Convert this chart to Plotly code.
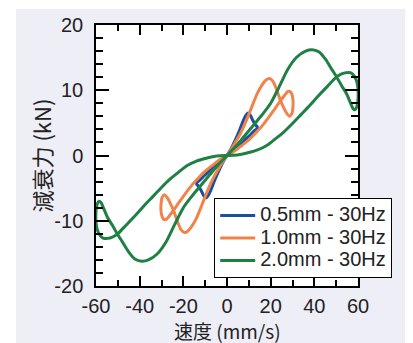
import plotly.graph_objects as go

# ---- data (velocity mm/s, force kN) ----
v_05 = [0, 1.5, 3, 4.5, 6, 7.5, 8.7, 9.6, 10.6, 11.8, 13.0, 13.9, 13.6, 12.2, 10.5, 8.5, 6.5, 4.5, 2.5, 0,
        -2.5, -4.5, -6.5, -8.5, -10.5, -12.2, -13.6, -13.9, -13.0, -11.8, -10.6, -9.6, -8.7, -7.5, -6, -4.5, -3, -1.5, 0]
f_05 = [0, 0.8, 1.8, 2.9, 4.1, 5.4, 6.2, 6.5, 6.2, 5.4, 4.7, 4.4, 4.1, 3.7, 3.1, 2.5, 1.8, 1.2, 0.6, 0,
        -0.6, -1.2, -1.8, -2.5, -3.1, -3.7, -4.1, -4.4, -4.7, -5.4, -6.2, -6.5, -6.2, -5.4, -4.1, -2.9, -1.8, -0.8, 0]

v_10 = [0, 2, 4, 6, 8, 10, 12, 14, 16, 18, 19.5, 21, 22.5, 24.3, 26, 27.5, 28.7, 29.7, 30.2, 30.2, 29.7, 28.9,
        27.8, 26.3, 24.3, 22, 19, 16, 13, 10, 7, 4, 2, 0,
        -2, -4, -7, -10, -13, -16, -19, -22, -24.3, -26.3, -27.8, -28.9, -29.7, -30.2, -30.2, -29.7, -28.7,
        -27.5, -26, -24.3, -22.5, -21, -19.5, -18, -16, -14, -12, -10, -8, -6, -4, -2, 0]
f_10 = [0, 1.0, 2.1, 3.3, 4.7, 6.3, 8.0, 9.6, 10.8, 11.6, 11.8, 11.4, 10.3, 8.6, 7.3, 6.4, 6.0, 6.4, 7.4, 8.6, 9.4, 9.8,
        9.8, 9.2, 8.3, 7.2, 5.8, 4.5, 3.4, 2.4, 1.6, 0.8, 0.4, 0,
        -0.4, -0.8, -1.6, -2.4, -3.4, -4.5, -5.8, -7.2, -8.3, -9.2, -9.8, -9.8, -9.4, -8.6, -7.4, -6.4, -6.0,
        -6.4, -7.3, -8.6, -10.3, -11.4, -11.8, -11.6, -10.8, -9.6, -8.0, -6.3, -4.7, -3.3, -2.1, -1.0, 0]

v_20 = [0, 4, 8, 12, 16, 20, 24, 28, 32, 36, 39, 42, 45, 48, 50.1, 52.5, 54.7, 56.5, 57.7, 58.6, 59.5, 60, 60,
        59.3, 58, 56.5, 54.7, 52.5, 50.1, 46, 42, 38, 34, 30, 26, 22, 18, 14, 10, 6, 3, 0,
        -3, -6, -10, -14, -18, -22, -26, -30, -34, -38, -42, -46, -50.1, -52.5, -54.7, -56.5, -58, -59.3,
        -60, -60, -59.5, -58.6, -57.7, -56.5, -54.7, -52.5, -50.1, -48, -45, -42, -39, -36, -32, -28, -24,
        -20, -16, -12, -8, -4, 0]
f_20 = [0, 1.4, 3.0, 4.6, 6.2, 8.0, 10.6, 13.3, 15.1, 16.0, 16.2, 15.9, 14.8, 13.2, 12.1, 10.7, 9.5, 8.1, 7.2, 7.0, 7.5, 8.6, 10.2,
        11.5, 12.3, 12.7, 12.7, 12.5, 12.0, 10.6, 9.2, 7.7, 6.3, 4.9, 3.6, 2.5, 1.5, 0.85, 0.45, 0.15, 0.04, 0,
        -0.04, -0.15, -0.45, -0.85, -1.5, -2.5, -3.6, -4.9, -6.3, -7.7, -9.2, -10.6, -12.0, -12.5, -12.7, -12.7, -12.3, -11.5,
        -10.2, -8.6, -7.5, -7.0, -7.2, -8.1, -9.5, -10.7, -12.1, -13.2, -14.8, -15.9, -16.2, -16.0, -15.1, -13.3, -10.6,
        -8.0, -6.2, -4.6, -3.0, -1.4, 0]

series_names = ["0.5mm - 30Hz", "1.0mm - 30Hz", "2.0mm - 30Hz"]
series_colors = ["#1B4F9E", "#F0834A", "#1E8043"]

x_tickvals = [-60, -40, -20, 0, 20, 40, 60]
x_ticktext = ["-60", "-40", "-20", "0", "20", "40", "60"]
y_tickvals = [-20, -10, 0, 10, 20]
y_ticktext = ["-20", "-10", "0", "10", "20"]

x_title = "速度 (mm/s)"
y_title = "減衰力 (kN)"

LATIN = "Liberation Sans, Arial, sans-serif"
CJK = "Noto Sans CJK JP, Liberation Sans, sans-serif"

fig = go.Figure()
for name, xs, ys, col in zip(series_names, [v_05, v_10, v_20], [f_05, f_10, f_20], series_colors):
    fig.add_trace(go.Scatter(
        x=xs, y=ys, mode="lines",
        name='<span style="font-size:20px">' + name + '</span>',
        line=dict(color=col, width=3, shape="spline", smoothing=0.8),
        hoverinfo="skip",
    ))

# page is offset by the 8px body margin
OFF = 8
W, H = 413 - OFF, 343 - OFF
L, T = 96 - OFF, 25 - OFF
R = W - (358 - OFF)
B = H - (286 - OFF)
pw, ph = W - L - R, H - T - B

def px_x(x):  # page px -> paper
    return (x - OFF - L) / pw

def px_y(y):
    return (H - B - (y - OFF)) / ph

axis_common = dict(
    showline=True, linecolor="black", linewidth=1.5, mirror="ticks",
    ticks="inside", tickcolor="black", tickwidth=1.5,
    showgrid=False, zeroline=False,
    tickfont=dict(family=LATIN, size=20, color="#222"),
    tickmode="array",
)

fig.update_xaxes(
    **axis_common, range=[-60, 60], tickvals=x_tickvals, ticktext=x_ticktext,
    ticklen=10, ticklabelstandoff=1,
    minor=dict(dtick=10, tick0=0, ticklen=6, ticks="inside", tickcolor="black", tickwidth=1.5),
)
fig.update_yaxes(
    **axis_common, range=[-20, 20], tickvals=y_tickvals, ticktext=y_ticktext,
    ticklen=13, ticklabelstandoff=7,
    minor=dict(dtick=2, tick0=0, ticklen=7, ticks="inside", tickcolor="black", tickwidth=1.5),
)

lav = "#EEEEF7"
fig.update_layout(
    width=W, height=H,
    margin=dict(l=L, r=R, t=T, b=B, autoexpand=False),
    paper_bgcolor=lav, plot_bgcolor="white",
    showlegend=True,
    legend=dict(
        x=px_x(214), y=px_y(198), xanchor="left", yanchor="top",
        bgcolor="white", bordercolor="black", borderwidth=1.2,
        font=dict(family=LATIN, size=15, color="#222"),
        itemwidth=35, tracegroupgap=0,
    ),
    shapes=[
        dict(type="rect", xref="paper", yref="paper", x0=-2, x1=px_x(16), y0=-2, y1=3,
             fillcolor="white", line=dict(width=0), layer="below"),
        dict(type="rect", xref="paper", yref="paper", x0=-2, x1=3, y0=px_y(9), y1=3,
             fillcolor="white", line=dict(width=0), layer="below"),
        dict(type="rect", xref="paper", yref="paper", x0=px_x(409), x1=3, y0=-2, y1=3,
             fillcolor="white", line=dict(width=0), layer="below"),
    ],
    annotations=[
        dict(text=x_title, xref="paper", yref="paper", x=0.5, y=px_y(330),
             xanchor="center", yanchor="middle", showarrow=False, borderpad=0,
             font=dict(family=CJK, size=19, color="#222")),
        dict(text=y_title, xref="paper", yref="paper", x=px_x(40), y=0.5,
             xanchor="center", yanchor="middle", showarrow=False, textangle=-90,
             font=dict(family=CJK, size=22, color="#222")),
    ],
    hovermode=False,
)

fig.write_html("out.html", config=dict(displayModeBar=False))
